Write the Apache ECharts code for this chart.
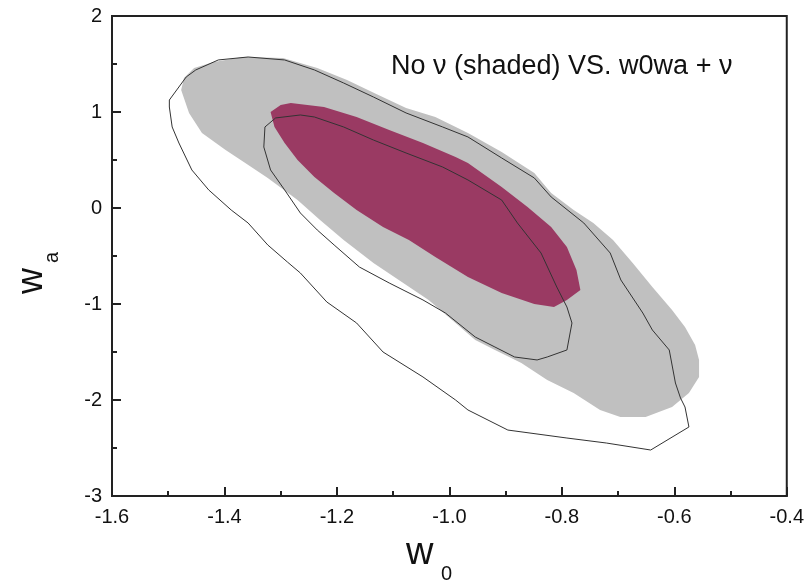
<!DOCTYPE html>
<html>
<head>
<meta charset="utf-8">
<script src="https://cdn.jsdelivr.net/npm/echarts@6/dist/echarts.min.js"></script>
<style>html,body{margin:0;padding:0;background:#fff}#c{width:807px;height:583px}</style>
</head>
<body>
<div id="c"></div>
<script>
// x ticks and y ticks
var xTicks = [-1.6, -1.4, -1.2, -1.0, -0.8, -0.6, -0.4];
var yTicks = [-3, -2, -1, 0, 1, 2];

// No nu, 2 sigma (grey shaded)
var noNu2 = [[-1.477,1.229],[-1.472,1.354],[-1.454,1.458],[-1.419,1.521],[-1.367,1.573],[-1.296,1.563],[-1.235,1.458],[-1.182,1.333],[-1.130,1.188],[-1.077,1.042],[-1.025,0.948],[-0.967,0.781],[-0.907,0.583],[-0.849,0.365],[-0.819,0.156],[-0.779,-0.021],[-0.744,-0.156],[-0.709,-0.333],[-0.674,-0.573],[-0.639,-0.823],[-0.604,-1.063],[-0.581,-1.240],[-0.563,-1.427],[-0.556,-1.583],[-0.556,-1.760],[-0.574,-1.927],[-0.604,-2.073],[-0.651,-2.177],[-0.696,-2.177],[-0.732,-2.104],[-0.779,-1.927],[-0.826,-1.792],[-0.872,-1.615],[-0.919,-1.479],[-0.954,-1.375],[-0.989,-1.198],[-1.037,-0.958],[-1.082,-0.781],[-1.135,-0.573],[-1.188,-0.333],[-1.230,-0.125],[-1.270,0.083],[-1.323,0.313],[-1.363,0.469],[-1.398,0.604],[-1.440,0.781],[-1.463,0.990]];

// No nu, 1 sigma (magenta shaded)
var noNu1 = [[-1.318,1.000],[-1.300,1.073],[-1.282,1.094],[-1.223,1.052],[-1.165,0.948],[-1.107,0.813],[-1.047,0.677],[-0.989,0.531],[-0.967,0.469],[-0.907,0.219],[-0.861,0.010],[-0.819,-0.198],[-0.791,-0.406],[-0.774,-0.646],[-0.767,-0.854],[-0.791,-0.958],[-0.814,-1.031],[-0.849,-1.000],[-0.907,-0.885],[-0.967,-0.719],[-1.025,-0.510],[-1.072,-0.333],[-1.118,-0.198],[-1.165,-0.021],[-1.205,0.156],[-1.240,0.323],[-1.270,0.500],[-1.293,0.677],[-1.311,0.844]];

// w0wa + nu, 2 sigma contour
var nu2 = [[-1.498,1.125],[-1.498,1.052],[-1.493,0.844],[-1.481,0.677],[-1.458,0.396],[-1.428,0.188],[-1.388,-0.021],[-1.358,-0.156],[-1.323,-0.385],[-1.288,-0.563],[-1.265,-0.677],[-1.218,-0.979],[-1.165,-1.198],[-1.118,-1.500],[-1.047,-1.760],[-0.989,-2.000],[-0.967,-2.104],[-0.896,-2.313],[-0.791,-2.396],[-0.721,-2.448],[-0.642,-2.521],[-0.574,-2.281],[-0.581,-2.073],[-0.589,-1.979],[-0.598,-1.823],[-0.609,-1.479],[-0.639,-1.271],[-0.656,-1.094],[-0.695,-0.750],[-0.714,-0.469],[-0.761,-0.156],[-0.819,0.115],[-0.849,0.313],[-0.907,0.521],[-0.967,0.740],[-1.012,0.844],[-1.077,0.990],[-1.135,1.156],[-1.188,1.302],[-1.240,1.438],[-1.293,1.542],[-1.358,1.573],[-1.411,1.542],[-1.451,1.438],[-1.468,1.365]];

// w0wa + nu, 1 sigma contour
var nu1 = [[-1.328,0.844],[-1.330,0.635],[-1.318,0.396],[-1.293,0.188],[-1.265,-0.052],[-1.235,-0.229],[-1.205,-0.385],[-1.160,-0.615],[-1.107,-0.781],[-1.047,-0.958],[-1.007,-1.094],[-0.954,-1.344],[-0.919,-1.448],[-0.884,-1.552],[-0.844,-1.583],[-0.826,-1.552],[-0.791,-1.479],[-0.782,-1.198],[-0.791,-1.031],[-0.809,-0.823],[-0.837,-0.469],[-0.879,-0.156],[-0.907,0.083],[-0.967,0.292],[-1.012,0.427],[-1.077,0.573],[-1.135,0.708],[-1.188,0.844],[-1.240,0.948],[-1.265,0.969],[-1.309,0.938]];

var chart = echarts.init(document.getElementById('c'), null, {renderer: 'canvas'});

function polySeries(pts, fill, z) {
  return {
    type: 'custom', data: pts, z: z, silent: true,
    encode: {x: 0, y: 1},
    renderItem: function (params, api) {
      if (params.dataIndex !== 0) return null;
      var points = pts.map(function (p) { return api.coord(p); });
      return {type: 'polygon', shape: {points: points}, style: {fill: fill, stroke: 'none'}};
    }
  };
}
function lineSeries(pts, z) {
  return {
    type: 'custom', data: pts, z: z, silent: true,
    encode: {x: 0, y: 1},
    renderItem: function (params, api) {
      if (params.dataIndex !== 0) return null;
      var points = pts.map(function (p) { return api.coord(p); });
      points.push(points[0]);
      return {type: 'polyline', shape: {points: points}, style: {fill: null, stroke: '#333', lineWidth: 1}};
    }
  };
}

var FONT = 'Liberation Sans, Arial, sans-serif';
var labelStyle = {color: '#111', fontSize: 20, fontFamily: FONT};

chart.setOption({
  animation: false,
  backgroundColor: '#fff',
  grid: {left: 112, right: 12, top: 16, bottom: 87, show: true, borderColor: '#222', borderWidth: 2, backgroundColor: 'transparent'},
  xAxis: {
    type: 'value', min: xTicks[0], max: xTicks[xTicks.length - 1], interval: 0.2,
    axisLine: {show: true, onZero: false, lineStyle: {color: '#222', width: 2}},
    axisTick: {show: true, inside: true, length: 9, lineStyle: {color: '#222', width: 2}},
    minorTick: {show: true, splitNumber: 2, length: 5, lineStyle: {color: '#222', width: 2}},
    splitLine: {show: false},
    axisLabel: Object.assign({margin: 11, formatter: function (v) { return v.toFixed(1); }}, labelStyle)
  },
  yAxis: {
    type: 'value', min: yTicks[0], max: yTicks[yTicks.length - 1], interval: 1,
    axisLine: {show: true, onZero: false, lineStyle: {color: '#222', width: 2}},
    axisTick: {show: true, inside: true, length: 9, lineStyle: {color: '#222', width: 2}},
    minorTick: {show: true, splitNumber: 2, length: 5, lineStyle: {color: '#222', width: 2}},
    splitLine: {show: false},
    axisLabel: Object.assign({margin: 10}, labelStyle)
  },
  graphic: [
    {type: 'text', left: 391, top: 53, z: 100, style: {text: 'No \u03bd (shaded) VS. w0wa + \u03bd', fontSize: 27, fontFamily: FONT, fill: '#111'}},
    {type: 'text', left: 406, top: 535, z: 100, style: {text: 'w', fontSize: 38, fontFamily: FONT, fill: '#111'}},
    {type: 'text', left: 441, top: 564, z: 100, style: {text: '0', fontSize: 20, fontFamily: FONT, fill: '#111'}},
    {type: 'text', x: 14, y: 294, rotation: Math.PI / 2, z: 100, style: {text: 'w', fontSize: 36, fontFamily: FONT, fill: '#111'}},
    {type: 'text', x: 42, y: 263, rotation: Math.PI / 2, z: 100, style: {text: 'a', fontSize: 20, fontFamily: FONT, fill: '#111'}}
  ],
  series: [
    polySeries(noNu2, '#c0c0c0', 1),
    polySeries(noNu1, '#9a3a63', 2),
    lineSeries(nu2, 3),
    lineSeries(nu1, 4)
  ]
});
</script>
</body>
</html>
